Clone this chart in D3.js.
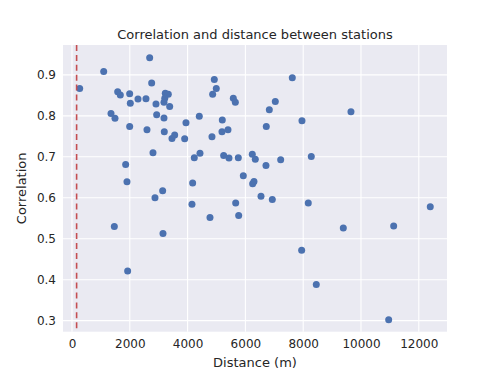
<!DOCTYPE html>
<html>
<head>
<meta charset="utf-8">
<script src="https://cdn.jsdelivr.net/npm/d3@7"></script>
<style>
  body { margin: 0; background: #fff; }
  text { font-family: "DejaVu Sans", sans-serif; fill: #262626; }
</style>
</head>
<body>
<div id="canvas"></div>
<script>
// distance between stations (m) and correlation
const distance = [266, 1097, 1350, 1488, 1465, 1581, 1672, 1857, 1903, 1926,
  1996, 2018, 1996, 2284, 2560, 2595, 2688, 2757, 2803, 2872,
  2906, 2930, 3137, 3149, 3183, 3183, 3194, 3229, 3333, 3210,
  3380, 3460, 3553, 3899, 3944, 4152, 4175, 4232, 4405, 4429,
  4775, 4844, 4867, 4924, 4993, 5190, 5201, 5248, 5398, 5432,
  5582, 5652, 5664, 5755, 5768, 5928, 6239, 6343, 6251, 6297,
  6540, 6712, 6723, 6828, 6931, 7035, 7221, 7623, 7947, 7958,
  8176, 8280, 8453, 9388, 9653, 10958, 11131, 12397];
const correlation = [0.867, 0.908, 0.806, 0.794, 0.530, 0.859, 0.851, 0.681, 0.639, 0.421,
  0.854, 0.831, 0.774, 0.841, 0.842, 0.766, 0.942, 0.880, 0.710, 0.600,
  0.829, 0.803, 0.617, 0.513, 0.833, 0.795, 0.761, 0.855, 0.853, 0.843,
  0.823, 0.745, 0.753, 0.744, 0.783, 0.584, 0.636, 0.698, 0.799, 0.709,
  0.552, 0.749, 0.853, 0.889, 0.867, 0.761, 0.790, 0.703, 0.766, 0.697,
  0.843, 0.833, 0.587, 0.698, 0.557, 0.654, 0.706, 0.694, 0.634, 0.640,
  0.604, 0.679, 0.774, 0.815, 0.596, 0.835, 0.693, 0.893, 0.472, 0.788,
  0.587, 0.701, 0.388, 0.526, 0.810, 0.302, 0.531, 0.578];
const xTicks = [0, 2000, 4000, 6000, 8000, 10000, 12000];
const yTicks = [0.3, 0.4, 0.5, 0.6, 0.7, 0.8, 0.9];
const cutoff = 160;

let margin = { top: 45, right: 51, bottom: 42.3, left: 63 },
  width = 498 - margin.left - margin.right,
  height = 374 - margin.top - margin.bottom;

let svg = d3.select("#canvas")
  .append("svg")
  .attr("width", 498)
  .attr("height", 374)
  .append("g")
  .attr("transform", "translate(" + margin.left + "," + margin.top + ")");

let xScale = d3.scaleLinear().domain([-311, 12976]).range([0, width]);
let yScale = d3.scaleLinear().domain([0.273, 0.973]).range([height, 0]);

// background
svg.append("rect")
  .attr("width", width)
  .attr("height", height)
  .attr("fill", "#EAEAF2");

// grid
svg.selectAll(".xgrid").data(xTicks).enter().append("line")
  .attr("x1", d => xScale(d)).attr("x2", d => xScale(d))
  .attr("y1", 0).attr("y2", height)
  .attr("stroke", "#fff").attr("stroke-width", 1.1);
svg.selectAll(".ygrid").data(yTicks).enter().append("line")
  .attr("y1", d => yScale(d)).attr("y2", d => yScale(d))
  .attr("x1", 0).attr("x2", width)
  .attr("stroke", "#fff").attr("stroke-width", 1.1);

// axes (labels only, no lines)
let xAxis = svg.append("g")
  .attr("transform", "translate(0," + height + ")")
  .call(d3.axisBottom(xScale).tickValues(xTicks).tickSize(0).tickPadding(8).tickFormat(d3.format("d")));
let yAxis = svg.append("g")
  .call(d3.axisLeft(yScale).tickValues(yTicks).tickSize(0).tickPadding(7).tickFormat(d3.format(".1f")));
[xAxis, yAxis].forEach(a => {
  a.select(".domain").remove();
  a.selectAll("text").style("font-size", "12px").attr("fill", "#262626")
    .style("font-family", "DejaVu Sans, sans-serif");
});

// points
let points = distance.map((d, i) => ({ x: d, y: correlation[i] }));
svg.selectAll(".scatter-point")
  .data(points)
  .enter()
  .append("circle")
  .attr("class", "scatter-point")
  .attr("cx", d => xScale(d.x))
  .attr("cy", d => yScale(d.y))
  .attr("r", 3.5)
  .attr("fill", "#4C72B0");

// cutoff line
svg.append("line")
  .attr("x1", xScale(cutoff)).attr("x2", xScale(cutoff))
  .attr("y1", 0).attr("y2", height)
  .attr("stroke", "#C44E52")
  .attr("stroke-width", 1.6)
  .attr("stroke-dasharray", "6,3.9");

// titles
svg.append("text")
  .attr("x", width / 2)
  .attr("y", -6.5)
  .attr("text-anchor", "middle")
  .style("font-size", "13px")
  .text("Correlation and distance between stations");

svg.append("text")
  .attr("x", width / 2)
  .attr("y", height + 35.5)
  .attr("text-anchor", "middle")
  .style("font-size", "13px")
  .text("Distance (m)");

svg.append("text")
  .attr("transform", "rotate(-90)")
  .attr("x", -height / 2)
  .attr("y", -37)
  .attr("text-anchor", "middle")
  .style("font-size", "13px")
  .text("Correlation");
</script>
</body>
</html>
